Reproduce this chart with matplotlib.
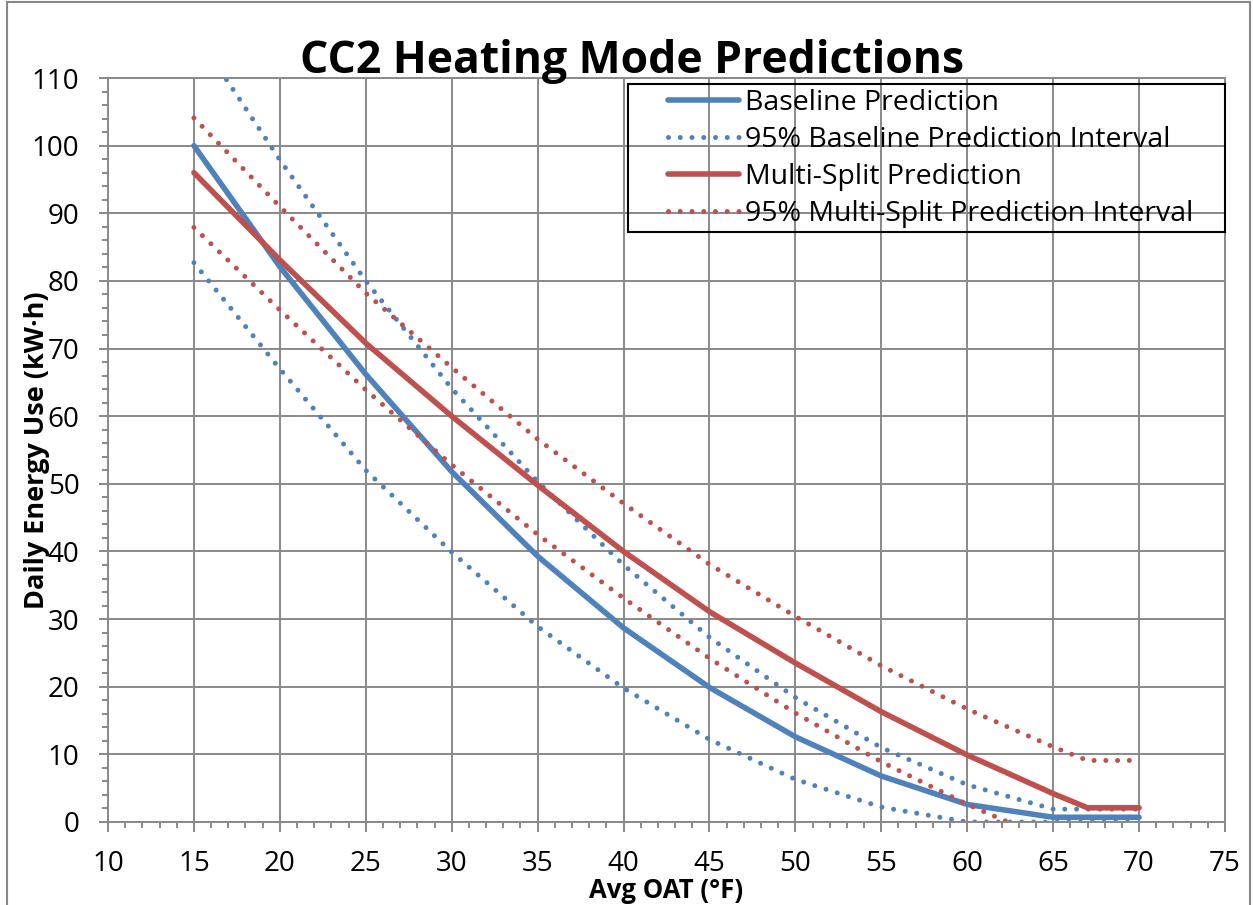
import numpy as np
import matplotlib
matplotlib.use("Agg")
import matplotlib.pyplot as plt
from matplotlib.patches import Rectangle
from matplotlib.ticker import MultipleLocator

plt.rcParams['font.family'] = ['Open Sans', 'DejaVu Sans']

# data (Avg OAT in F, daily energy in kW.h)
oat = [15, 20, 25, 30, 35, 40, 45, 50, 55, 60, 65, 70]
baseline = [100, 82.1, 66.2, 51.8, 39.3, 28.7, 19.9, 12.6, 6.8, 2.6, 0.7, 0.7]
baseline_hi = [117, 97.9, 80.0, 64.1, 50.3, 38.0, 27.3, 18.4, 11.0, 5.5, 1.9, 1.9]
baseline_lo = [82.7, 67.0, 52.0, 39.9, 28.9, 19.8, 12.2, 6.3, 2.2, 0, 0, 0]

oat_ms = [15, 20, 25, 30, 35, 40, 45, 50, 55, 60, 65, 67, 70]
multisplit = [96.0, 83.1, 70.8, 60.0, 49.8, 40.0, 31.1, 23.5, 16.3, 9.9, 4.2, 2.1, 2.1]
multisplit_hi = [104.1, 91.0, 78.2, 67.2, 56.6, 47.1, 38.1, 30.4, 23.1, 16.7, 11.1, 9.1, 9.1]
multisplit_lo = [87.9, 75.7, 63.9, 52.8, 42.5, 33.1, 24.2, 16.1, 8.9, 2.6, -2.9, -4.9, -4.9]

labels = ["Baseline Prediction", "95% Baseline Prediction Interval",
          "Multi-Split Prediction", "95% Multi-Split Prediction Interval"]

BLUE = '#4F81BD'
RED = '#C0504D'
GRID = '#898989'
W, H = 1253, 905

fig = plt.figure(figsize=(W / 100, H / 100), dpi=100)
ax = fig.add_axes([108 / W, 1 - 822 / H, (1225 - 108) / W, (822 - 78) / H])

solid = dict(lw=4.0, solid_capstyle='round')
dots = dict(lw=3.6, linestyle=(0, (0.001, 2.35)), dash_capstyle='round')

h1, = ax.plot(oat, baseline, color=BLUE, **solid)
h2, = ax.plot(oat, baseline_hi, color=BLUE, **dots)
ax.plot(oat, baseline_lo, color=BLUE, **dots)
h3, = ax.plot(oat_ms, multisplit, color=RED, **solid)
h4, = ax.plot(oat_ms, multisplit_hi, color=RED, **dots)
ax.plot(oat_ms, multisplit_lo, color=RED, **dots)

ax.set_xlim(10, 75)
ax.set_ylim(0, 110)
ax.xaxis.set_major_locator(MultipleLocator(5))
ax.xaxis.set_minor_locator(MultipleLocator(1))
ax.yaxis.set_major_locator(MultipleLocator(10))
ax.yaxis.set_minor_locator(MultipleLocator(2))
ax.grid(True, which='major', color=GRID, lw=1.4)
ax.set_axisbelow(True)
for s in ax.spines.values():
    s.set_color(GRID)
    s.set_linewidth(1.4)

ax.tick_params(which='both', direction='out', color=GRID, width=1.4, labelsize=20)
ax.tick_params(axis='x', which='major', length=7.5, pad=13)
ax.tick_params(axis='y', which='major', length=6.5, pad=14)
ax.tick_params(which='minor', length=4.5)

fig.text(632 / W, 1 - 73 / H, "CC2 Heating Mode Predictions", ha='center', va='baseline',
         fontsize=32, fontweight='bold')
fig.text(666 / W, 1 - 898 / H, "Avg OAT (°F)", ha='center', va='baseline',
         fontsize=18.5, fontweight='bold')
fig.text(44 / W, 1 - 450 / H, "Daily Energy Use (kW·h)", ha='center', va='baseline',
         rotation=90, rotation_mode='anchor', fontsize=19.5, fontweight='bold')

# legend box drawn separately, entries placed inside it
fig.patches.append(Rectangle((628 / W, 1 - 232 / H), (1225 - 628) / W, (232 - 84) / H,
                             transform=fig.transFigure, fill=False, edgecolor='black',
                             lw=1.5, zorder=5))
leg = ax.legend([h1, h2, h3, h4], labels, loc='upper left',
                bbox_to_anchor=(665 / W, 1 - 86 / H), bbox_transform=fig.transFigure,
                frameon=False, fontsize=20.5, handlelength=2.5, handletextpad=0.21,
                labelspacing=0.32, borderpad=0.1, borderaxespad=0)

# outer chart border
fig.patches.append(Rectangle((7 / W, -0.01), (1250 - 7) / W, 1 - 2 / H + 0.01,
                             transform=fig.transFigure, fill=False, edgecolor='#878787',
                             lw=1.5))

fig.savefig("out.png", dpi=100)
